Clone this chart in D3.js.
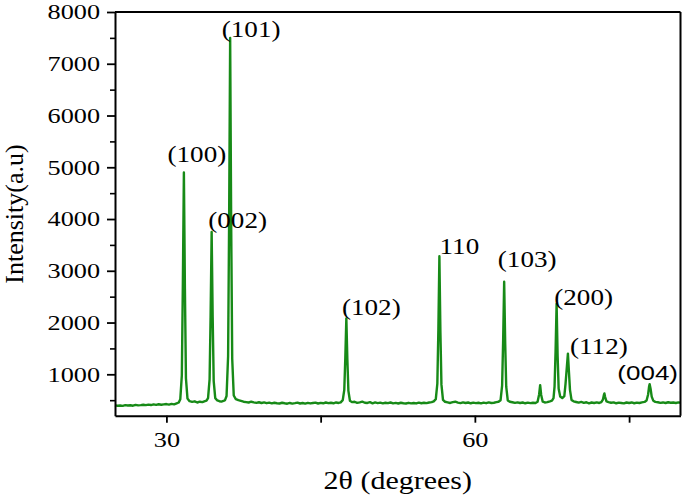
<!DOCTYPE html>
<html>
<head>
<meta charset="utf-8">
<script src="https://cdn.jsdelivr.net/npm/d3@7"></script>
<style>
  html, body { margin: 0; padding: 0; background: #fff; }
  svg { display: block; }
  .serif { font-family: "Liberation Serif", "Times New Roman", Times, serif; }
  .sans { font-family: "Liberation Sans", Arial, Helvetica, sans-serif; }
</style>
</head>
<body>
<svg id="chart" width="685" height="497"></svg>
<script>
// ---------------- DATA ----------------
// XRD pattern: [2θ (degrees), intensity (a.u.)]
const pattern = [
  [25.0, 400], [25.25, 392], [25.5, 398], [25.75, 390], [26.0, 404], [26.25, 396], [26.5, 401], [26.75, 393],
  [27.0, 408], [27.25, 399], [27.5, 404], [27.75, 412], [28.0, 405], [28.25, 414], [28.5, 406], [28.75, 419],
  [29.0, 410], [29.25, 421], [29.5, 412], [29.75, 418], [30.0, 425], [30.25, 414], [30.5, 428], [30.75, 420],
  [31.0, 440], [31.2, 455],
  [31.35, 520], [31.5, 980], [31.6, 2750], [31.7, 4900], [31.8, 2650], [31.9, 920], [32.05, 530],
  [32.25, 480], [32.5, 468], [32.75, 478], [33.0, 455], [33.25, 470], [33.5, 462], [33.75, 480], [33.9, 490],
  [34.05, 540], [34.2, 900], [34.3, 2150], [34.4, 3750], [34.5, 2100], [34.6, 870], [34.75, 540],
  [34.95, 495], [35.15, 480], [35.35, 472], [35.55, 485], [35.7, 500],
  [35.85, 580], [36.0, 1350], [36.1, 4000], [36.2, 7500], [36.3, 3900], [36.4, 1300], [36.55, 590],
  [36.75, 520], [37.0, 500], [37.25, 485], [37.5, 470], [37.75, 462], [38.0, 455], [38.25, 470], [38.5, 458],
  [38.75, 448], [39.0, 460], [39.25, 445], [39.5, 456], [39.75, 442], [40.0, 452], [40.25, 438], [40.5, 450],
  [40.75, 441], [41.0, 436], [41.25, 450], [41.5, 440], [41.75, 432], [42.0, 446], [42.25, 434], [42.5, 442],
  [42.75, 452], [43.0, 436], [43.25, 446], [43.5, 433], [43.75, 448], [44.0, 437], [44.25, 445], [44.5, 452],
  [44.75, 436], [45.0, 448], [45.25, 440], [45.5, 455], [45.75, 442], [46.0, 450], [46.25, 440], [46.5, 456],
  [46.75, 446], [46.95, 458],
  [47.15, 500], [47.3, 700], [47.4, 1320], [47.5, 2080], [47.6, 1280], [47.7, 680], [47.85, 490],
  [48.05, 462], [48.3, 470], [48.55, 448], [48.8, 458], [49.05, 472], [49.3, 450], [49.55, 446], [49.8, 462],
  [50.05, 440], [50.3, 456], [50.55, 444], [50.8, 452], [51.05, 438], [51.3, 450], [51.55, 442], [51.8, 455],
  [52.05, 439], [52.3, 447], [52.55, 436], [52.8, 450], [53.05, 441], [53.3, 436], [53.55, 449], [53.8, 438],
  [54.05, 446], [54.3, 437], [54.55, 452], [54.8, 441], [55.05, 450], [55.3, 443], [55.55, 455], [55.8, 462],
  [56.0, 478],
  [56.2, 520], [56.35, 820], [56.45, 1850], [56.55, 3280], [56.65, 1800], [56.75, 800], [56.9, 505],
  [57.1, 470], [57.35, 458], [57.6, 446], [57.85, 462], [58.1, 470], [58.35, 452], [58.6, 444], [58.85, 458],
  [59.1, 446], [59.35, 455], [59.6, 440], [59.85, 452], [60.1, 443], [60.35, 450], [60.6, 438], [60.85, 452],
  [61.1, 442], [61.35, 457], [61.6, 445], [61.85, 450], [62.1, 462], [62.3, 470],
  [62.5, 500], [62.65, 780], [62.75, 1650], [62.85, 2790], [62.95, 1600], [63.05, 760], [63.2, 495],
  [63.4, 470], [63.65, 460], [63.9, 448], [64.15, 458], [64.4, 445], [64.65, 455], [64.9, 440], [65.15, 452],
  [65.4, 444], [65.65, 450], [65.9, 446],
  [66.1, 470], [66.25, 610], [66.35, 790], [66.45, 600], [66.6, 470],
  [66.8, 456], [67.05, 462], [67.3, 478], [67.5, 492],
  [67.65, 540], [67.75, 760], [67.85, 1450], [67.95, 2360], [68.05, 1350], [68.15, 720], [68.3, 570], [68.5, 540],
  [68.7, 580], [68.82, 820], [68.95, 1150], [69.05, 1400], [69.15, 1050], [69.25, 700], [69.4, 505],
  [69.6, 478], [69.85, 465], [70.1, 452], [70.35, 466], [70.6, 448], [70.85, 460], [71.1, 440], [71.35, 455],
  [71.6, 446], [71.85, 458], [72.1, 446], [72.3, 462],
  [72.45, 510], [72.55, 600], [72.6, 630], [72.67, 560], [72.8, 475],
  [73.0, 462], [73.25, 450], [73.5, 458], [73.75, 440], [74.0, 452], [74.25, 445], [74.5, 438], [74.75, 455],
  [75.0, 446], [75.25, 456], [75.5, 441], [75.75, 452], [76.0, 445], [76.25, 458], [76.5, 466],
  [76.7, 495], [76.85, 610], [76.95, 770], [77.0, 810], [77.1, 710], [77.2, 570], [77.35, 490],
  [77.55, 468], [77.8, 460], [78.05, 448], [78.3, 456], [78.55, 445], [78.8, 460], [79.05, 450], [79.3, 456],
  [79.55, 446], [79.8, 458], [80.0, 452]
];

const peakLabels = ["(100)", "(002)", "(101)", "(102)", "110", "(103)", "(200)", "(112)", "(004)"];
const peakAngles = [31.7, 34.4, 36.2, 47.5, 56.55, 62.85, 67.95, 69.05, 77.0];
const peakHeights = [4900, 3750, 7500, 2080, 3280, 2790, 2360, 1400, 810];

const yMajorTicks = [1000, 2000, 3000, 4000, 5000, 6000, 7000, 8000];
const yMinorTicks = [500, 1500, 2500, 3500, 4500, 5500, 6500, 7500];
const xTicks = [30, 45, 60, 75];
const xTickLabels = ["30", "", "60", ""];

const xTitle = "2\u03B8 (degrees)";
const yTitle = "Intensity(a.u)";

// ---------------- LAYOUT ----------------
const svg = d3.select("#chart");
const L = 115, R = 680.5, T = 12, B = 415.7;
const green = "#178a17";
const serifFam = "Liberation Serif, Times New Roman, serif";
const sansFam = "Liberation Sans, Arial, sans-serif";

const x = d3.scaleLinear().domain([25, 80]).range([L, R]);
const y = d3.scaleLinear().domain([200, 8000]).range([B, T]);

// label placement relative to peak apex: [dx of text center, dy of baseline, family, size, x-stretch]
const labelLayout = {
  "(100)": [13, -10, serifFam, 23, 1.18],
  "(002)": [26, -4, serifFam, 23, 1.18],
  "(101)": [21, -1, serifFam, 23, 1.18],
  "(102)": [25, -3, serifFam, 23, 1.18],
  "110":   [20, -2, serifFam, 23, 1.18],
  "(103)": [23, -15, serifFam, 23, 1.18],
  "(200)": [27, 1, serifFam, 23, 1.18],
  "(112)": [31, 0, serifFam, 23, 1.18],
  "(004)": [-2, -4, sansFam, 20, 1.3]
};

// ---------------- CURVE ----------------
const line = d3.line().x(d => x(d[0])).y(d => y(d[1]));
svg.append("path")
  .datum(pattern)
  .attr("d", line)
  .attr("fill", "none")
  .attr("stroke", green)
  .attr("stroke-width", 2.4)
  .attr("stroke-linejoin", "round");

// ---------------- AXES ----------------
const yMinorAxis = d3.axisLeft(y).tickValues(yMinorTicks).tickSize(5).tickSizeOuter(0).tickFormat("");
svg.append("g").attr("transform", `translate(${L},0)`).call(yMinorAxis)
  .call(g => g.select(".domain").remove())
  .call(g => g.selectAll("line").attr("stroke", "#000").attr("stroke-width", 1.6));

const yAxis = d3.axisLeft(y).tickValues(yMajorTicks).tickSize(8).tickSizeOuter(0).tickFormat(d3.format("d"));
svg.append("g").attr("transform", `translate(${L},0)`).call(yAxis)
  .attr("font-family", serifFam)
  .call(g => g.select(".domain").attr("stroke", "#000").attr("stroke-width", 2))
  .call(g => g.selectAll("line").attr("stroke", "#000").attr("stroke-width", 1.8))
  .call(g => g.selectAll("text")
    .attr("font-family", serifFam).attr("font-size", 21).attr("fill", "#000")
    .attr("text-anchor", "end")
    .attr("x", -15 / 1.25).attr("dy", "0.33em")
    .attr("transform", "scale(1.25,1)"));

const xAxis = d3.axisBottom(x).tickValues(xTicks).tickSize(7).tickSizeOuter(0)
  .tickFormat((d, i) => xTickLabels[i]);
svg.append("g").attr("transform", `translate(0,${B})`).call(xAxis)
  .attr("font-family", serifFam)
  .call(g => g.select(".domain").attr("stroke", "#000").attr("stroke-width", 2))
  .call(g => g.selectAll("line").attr("stroke", "#000").attr("stroke-width", 1.8))
  .call(g => g.selectAll("text")
    .attr("font-family", serifFam).attr("font-size", 21).attr("fill", "#000")
    .attr("y", 31).attr("dy", 0)
    .attr("transform", "scale(1.25,1)"));

// top and right frame
svg.append("line").attr("x1", L).attr("x2", R).attr("y1", T).attr("y2", T)
  .attr("stroke", "#000").attr("stroke-width", 2);
svg.append("line").attr("x1", R).attr("x2", R).attr("y1", T).attr("y2", B)
  .attr("stroke", "#000").attr("stroke-width", 2);

// ---------------- PEAK LABELS ----------------
peakLabels.forEach((lab, i) => {
  const [dx, dy, fam, size, sx] = labelLayout[lab];
  const cx = x(peakAngles[i]) + dx;
  const by = y(peakHeights[i]) + dy;
  svg.append("text")
    .attr("font-family", fam)
    .attr("transform", `translate(${cx},${by}) scale(${sx},1)`)
    .attr("text-anchor", "middle")
    .attr("font-size", size)
    .attr("fill", "#000")
    .text(lab);
});

// ---------------- TITLES ----------------
svg.append("text")
  .attr("font-family", serifFam)
  .attr("transform", `translate(${(L + R) / 2},489) scale(1.2,1)`)
  .attr("text-anchor", "middle")
  .attr("font-size", 25).attr("fill", "#000")
  .text(xTitle);

svg.append("text")
  .attr("font-family", serifFam)
  .attr("transform", "translate(23,214) rotate(-90)")
  .attr("text-anchor", "middle")
  .attr("font-size", 26).attr("fill", "#000")
  .text(yTitle);
</script>
</body>
</html>
